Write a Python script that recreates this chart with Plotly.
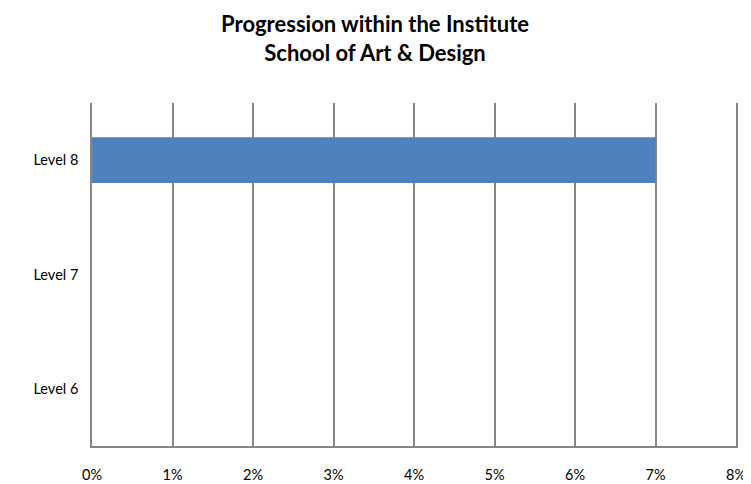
import plotly.graph_objects as go

categories = ["Level 6", "Level 7", "Level 8"]
values = [0.0, 0.0, 0.07]
tick_vals = [0, 0.01, 0.02, 0.03, 0.04, 0.05, 0.06, 0.07, 0.08]
tick_text = ["0%", "1%", "2%", "3%", "4%", "5%", "6%", "7%", "8%"]

font_family = "Lato, 'Open Sans', sans-serif"

fig = go.Figure(
    go.Bar(
        x=values,
        y=categories,
        orientation="h",
        marker=dict(color="#4F81BD", line=dict(width=0)),
        width=0.4,
    )
)

# page body adds an 8px offset, so the figure is sized to fit the window
fig.update_layout(
    width=743,
    height=476,
    paper_bgcolor="white",
    plot_bgcolor="white",
    margin=dict(l=84, r=15, t=95, b=38, autoexpand=False),
    showlegend=False,
    title=dict(
        text="<b>Progression within the Institute<br>School of Art &amp; Design</b>",
        x=0.494,
        xanchor="center",
        xref="container",
        y=1,
        yref="container",
        yanchor="top",
        pad=dict(t=24),
        font=dict(family=font_family, size=22, color="black"),
    ),
    font=dict(family=font_family, size=14, color="black"),
)

fig.update_xaxes(
    range=[0, 0.08],
    tickvals=tick_vals,
    ticktext=tick_text,
    showgrid=True,
    gridcolor="#868686",
    gridwidth=1.5,
    zeroline=False,
    showline=True,
    linecolor="#868686",
    linewidth=1.5,
    ticks="",
    ticklabelstandoff=15,
    tickfont=dict(size=14.5, color="black"),
    automargin=False,
    fixedrange=True,
)

fig.update_yaxes(
    categoryorder="array",
    categoryarray=categories,
    showgrid=False,
    zeroline=False,
    showline=True,
    mirror=True,
    linecolor="#868686",
    linewidth=1.5,
    ticks="",
    ticklabelstandoff=9,
    tickfont=dict(size=14.5, color="black"),
    automargin=False,
    fixedrange=True,
)

fig.write_html("out.html")
